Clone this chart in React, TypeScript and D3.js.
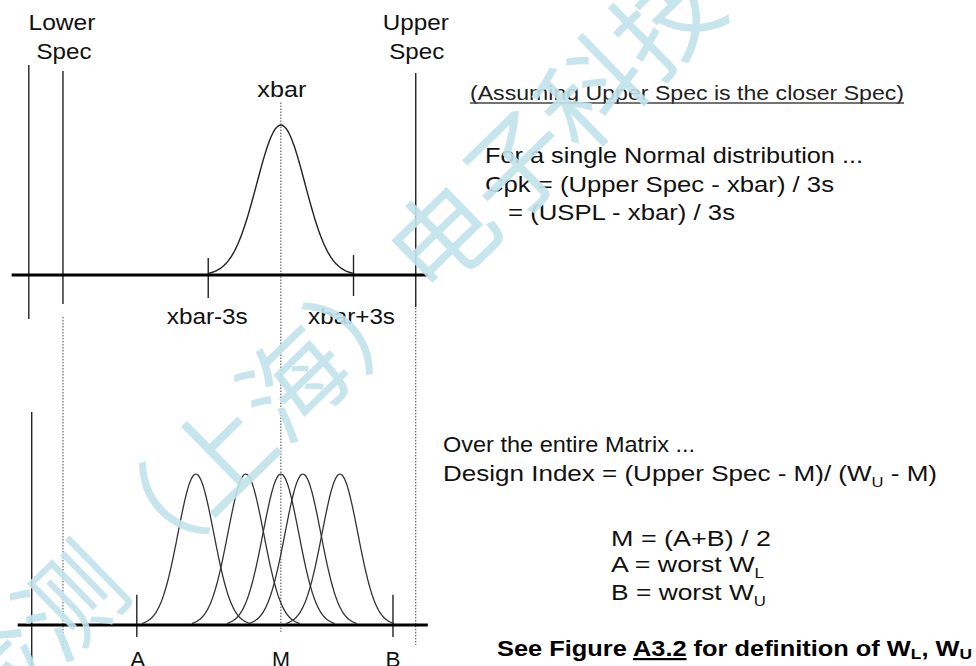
import { useEffect, useRef } from 'react';
import * as d3 from 'd3';

const W = 976;
const H = 666;

// x is measured in units of the single distribution's sigma, xbar = 0
const xbar = 0;
const sigma = 1;
const lowerSpec = -9.0;
const upperSpec = 5.57;
const outerTop = -10.41;
const outerBottom = -10.29;

// matrix of distributions (bottom panel)
const matrixMeans = [-3.51, -1.45, 0, 0.91, 2.44];
const matrixSigma = 0.74;
const pointA = -5.95;
const pointB = 4.63;
const pointM = 0;

const topRightLines = [
  { text: 'For a single Normal distribution ...', x: 485, y: 163, len: 378 },
  { text: 'Cpk = (Upper Spec - xbar) / 3s', x: 485, y: 192, len: 349 },
  { text: '= (USPL - xbar) / 3s', x: 508, y: 220, len: 227 },
];

const watermark = '检测（上海）电子科技有限公司';

const FONT = '"Liberation Sans", Arial, sans-serif';
const INK = '#111';

function normalCurve(mean: number, sd: number) {
  return d3.range(-3, 3.0001, 0.05).map(z => [mean + z * sd, Math.exp(-z * z / 2)] as [number, number]);
}

function Diagram() {
  const svgRef = useRef<SVGSVGElement>(null);

  useEffect(() => {
    const svg = d3.select(svgRef.current);
    svg.selectAll('*').remove();

    const x = d3.scaleLinear().domain([-11.6, 6.2]).range([0, 431]);
    const yTop = d3.scaleLinear().domain([0, 1]).range([275, 125]);
    const yBot = d3.scaleLinear().domain([0, 1]).range([625, 474]);

    svg.append('rect').attr('width', W).attr('height', H).attr('fill', '#fff');

    const vline = (g: any, xv: number, y1: number, y2: number, dotted = false) =>
      g.append('line')
        .attr('x1', x(xv)).attr('x2', x(xv))
        .attr('y1', y1).attr('y2', y2)
        .attr('stroke', dotted ? '#444' : '#222')
        .attr('stroke-width', dotted ? 1 : 1.4)
        .attr('stroke-dasharray', dotted ? '1.5,1.5' : null);

    const g = svg.append('g');

    // Dotted guides running down into the matrix panel
    vline(g, lowerSpec, yBot(2.04), yBot(-0.166), true);
    vline(g, upperSpec, yBot(2.10), yBot(-0.132), true);
    vline(g, xbar, yBot(3.46), yBot(-0.046), true);

    // ---- Top panel
    vline(g, outerTop, yTop(1.4), yTop(-0.293));
    vline(g, lowerSpec, yTop(1.36), yTop(-0.193));
    vline(g, upperSpec, yTop(1.347), yTop(-0.213));
    vline(g, xbar - 3 * sigma, yTop(0.113), yTop(-0.153));
    vline(g, xbar + 3 * sigma, yTop(0.133), yTop(-0.14));

    const lineTop = d3.line<[number, number]>().x(d => x(d[0])).y(d => yTop(d[1])).curve(d3.curveBasis);
    g.append('path')
      .datum(normalCurve(xbar, sigma))
      .attr('fill', 'none').attr('stroke', '#222').attr('stroke-width', 1.4)
      .attr('d', lineTop);

    g.append('line')
      .attr('x1', x(-11.12)).attr('x2', x(6.07))
      .attr('y1', yTop(0)).attr('y2', yTop(0))
      .attr('stroke', '#000').attr('stroke-width', 3);

    // ---- Bottom panel
    vline(g, outerBottom, yBot(1.41), yBot(-0.4));
    vline(g, pointA, yBot(0.2), yBot(-0.08));
    vline(g, pointB, yBot(0.2), yBot(-0.08));

    const lineBot = d3.line<[number, number]>().x(d => x(d[0])).y(d => yBot(d[1])).curve(d3.curveBasis);
    matrixMeans.forEach(m => {
      g.append('path')
        .datum(normalCurve(m, matrixSigma))
        .attr('fill', 'none').attr('stroke', '#333').attr('stroke-width', 1.3)
        .attr('d', lineBot);
    });

    g.append('line')
      .attr('x1', x(-10.87)).attr('x2', x(6.07))
      .attr('y1', yBot(0)).attr('y2', yBot(0))
      .attr('stroke', '#000').attr('stroke-width', 3);

    // ---- Labels
    const label = (txt: string, cx: number, y: number, len: number) =>
      svg.append('text')
        .attr('x', cx).attr('y', y)
        .attr('text-anchor', 'middle')
        .attr('font-family', FONT).attr('font-size', 22).attr('fill', INK)
        .attr('textLength', len).attr('lengthAdjust', 'spacingAndGlyphs')
        .text(txt);

    label('Lower', x(lowerSpec) - 1, 30, 67);
    label('Spec', x(lowerSpec) + 1, 59, 55);
    label('Upper', x(upperSpec), 30, 66);
    label('Spec', x(upperSpec) + 1, 59, 55);
    label('xbar', x(xbar) + 1, 97, 49);
    label('xbar-3s', x(xbar - 3 * sigma) - 1, 324, 81);
    label('xbar+3s', x(xbar + 3 * sigma) - 2, 324, 87);
    // A, M, B sit on the bottom edge, clipped as in the source figure
    label('A', x(pointA) + 1, 667, 15);
    label('M', x(pointM), 667, 18);
    label('B', x(pointB), 667, 15);

    const left = (txt: string, x0: number, y: number, len: number, size = 22) =>
      svg.append('text')
        .attr('x', x0).attr('y', y)
        .attr('font-family', FONT).attr('font-size', size).attr('fill', INK)
        .attr('textLength', len).attr('lengthAdjust', 'spacingAndGlyphs')
        .text(txt);

    left('(Assuming Upper Spec is the closer Spec)', 470, 100, 434, 19.5)
      .attr('fill', '#222');
    svg.append('line')
      .attr('x1', 470).attr('x2', 904).attr('y1', 103).attr('y2', 103)
      .attr('stroke', '#444').attr('stroke-width', 1.5);

    topRightLines.forEach(l => left(l.text, l.x, l.y, l.len));

    left('Over the entire Matrix ...', 443, 452, 252);

    const design = left('', 443, 481, 494);
    design.append('tspan').text('Design Index = (Upper Spec - M)/ (W');
    design.append('tspan').attr('font-size', 14).attr('dy', 6).text('U');
    design.append('tspan').attr('dy', -6).text(' - M)');

    left('M = (A+B) / 2', 611, 546, 160);
    const a = left('', 611, 572, 153);
    a.append('tspan').text('A = worst W');
    a.append('tspan').attr('font-size', 14).attr('dy', 6).text('L');
    const b = left('', 611, 600, 155);
    b.append('tspan').text('B = worst W');
    b.append('tspan').attr('font-size', 14).attr('dy', 6).text('U');

    const see = left('', 497, 656, 475).attr('font-weight', 'bold').attr('fill', '#000');
    see.append('tspan').text('See Figure ');
    see.append('tspan').style('text-decoration', 'underline').text('A3.2');
    see.append('tspan').text(' for definition of W');
    see.append('tspan').attr('font-size', 15).attr('dy', 3).text('L');
    see.append('tspan').attr('dy', -3).text(', W');
    see.append('tspan').attr('font-size', 15).attr('dy', 3).text('U');

    // ---- Watermark
    const wmSize = 104;
    svg.append('g')
      .attr('transform', 'translate(70,600) rotate(-44.3)')
      .append('text')
      .attr('x', -1.5 * wmSize).attr('y', 0.38 * wmSize)
      .attr('font-family', '"Noto Sans CJK SC", sans-serif')
      .attr('font-size', wmSize)
      .attr('fill', '#c2e3eb').attr('opacity', 0.9)
      .text(watermark);
  }, []);

  return <svg ref={svgRef} width={W} height={H} style={{ position: 'absolute', left: 0, top: 0 }} />;
}

export default function App() {
  return <Diagram />;
}
